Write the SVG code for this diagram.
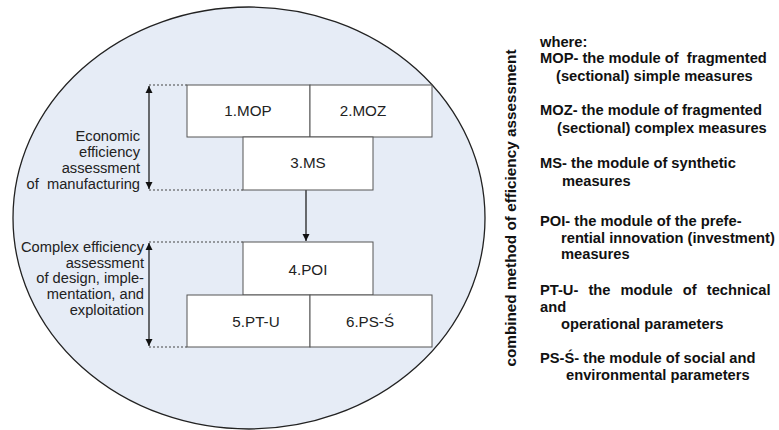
<svg xmlns="http://www.w3.org/2000/svg" width="779" height="430" viewBox="0 0 779 430">
<style>
.box{fill:#fff;stroke:#555;stroke-width:1}
.lbl{font-family:"Liberation Sans",Arial,sans-serif;font-size:15.2px;fill:#222;text-anchor:middle}
.side{font-family:"Liberation Sans",Arial,sans-serif;font-size:14.7px;fill:#222;text-anchor:end}
.leg{font-family:"Liberation Sans",Arial,sans-serif;font-size:14.7px;font-weight:bold;fill:#111}
.dash{stroke:#444;stroke-width:1;stroke-dasharray:2,2;fill:none}
.ln{stroke:#111;stroke-width:1.2;fill:none}
</style>
<defs>
<marker id="ah" viewBox="0 0 10 10" refX="10" refY="5" markerWidth="7" markerHeight="9" markerUnits="userSpaceOnUse" orient="auto-start-reverse">
<path d="M0,0 L10,5 L0,10 z" fill="#111"/>
</marker>
</defs>
<ellipse id="scope" cx="249" cy="218" rx="236" ry="211" fill="#E6ECF6" stroke="#222" stroke-width="1.3"/>
<g id="connectors">
<line class="dash" x1="149" y1="85" x2="187" y2="85"/>
<line class="dash" x1="149" y1="190" x2="243" y2="190"/>
<line class="dash" x1="149" y1="242" x2="243" y2="242"/>
<line class="dash" x1="149" y1="347" x2="187" y2="347"/>
<line class="ln" x1="149" y1="86" x2="149" y2="189" marker-start="url(#ah)" marker-end="url(#ah)"/>
<line class="ln" x1="149" y1="243" x2="149" y2="346" marker-start="url(#ah)" marker-end="url(#ah)"/>
<line class="ln" x1="306" y1="190" x2="306" y2="241" marker-end="url(#ah)"/>
</g>
<g id="n1"><rect class="box" x="187" y="85" width="123" height="52"/><text class="lbl" x="248" y="116">1.MOP</text></g>
<g id="n2"><rect class="box" x="310" y="85" width="122" height="52"/><text class="lbl" x="363" y="116">2.MOZ</text></g>
<g id="n3"><rect class="box" x="243" y="137" width="130" height="53"/><text class="lbl" x="308" y="168">3.MS</text></g>
<g id="n4"><rect class="box" x="243" y="242" width="130" height="53"/><text class="lbl" x="308" y="275">4.POI</text></g>
<g id="n5"><rect class="box" x="187" y="295" width="123" height="52"/><text class="lbl" x="256" y="327">5.PT-U</text></g>
<g id="n6"><rect class="box" x="310" y="295" width="122" height="52"/><text class="lbl" x="370" y="327">6.PS-Ś</text></g>
<g id="label-economic">
<text class="side" x="140" y="141">Economic</text>
<text class="side" x="140" y="157">efficiency</text>
<text class="side" x="140" y="173">assessment</text>
<text class="side" x="140" y="189" xml:space="preserve">of  manufacturing</text>
</g>
<g id="label-complex">
<text class="side" x="144" y="252">Complex efficiency</text>
<text class="side" x="144" y="268">assessment</text>
<text class="side" x="144" y="283">of design, imple-</text>
<text class="side" x="144" y="299">mentation, and</text>
<text class="side" x="144" y="315">exploitation</text>
</g>
<text class="leg" transform="translate(516,208) rotate(-90)" text-anchor="middle" style="font-size:15.3px">combined method of efficiency assessment</text>
<g id="legend">
<text class="leg" x="540" y="47">where:</text>
<text class="leg" x="540" y="63" xml:space="preserve">MOP- the module of  fragmented</text>
<text class="leg" x="556" y="81">(sectional) simple measures</text>
<text class="leg" x="540" y="115">MOZ- the module of fragmented</text>
<text class="leg" x="557" y="133">(sectional) complex measures</text>
<text class="leg" x="540" y="168">MS- the module of synthetic</text>
<text class="leg" x="562" y="186">measures</text>
<text class="leg" x="540" y="226">POI- the module of the prefe-</text>
<text class="leg" x="561" y="243">rential innovation (investment)</text>
<text class="leg" x="561" y="259">measures</text>
<text class="leg" x="540" y="295" word-spacing="6">PT-U- the module of technical</text>
<text class="leg" x="540" y="312">and</text>
<text class="leg" x="561" y="329">operational parameters</text>
<text class="leg" x="540" y="363">PS-Ś- the module of social and</text>
<text class="leg" x="566" y="380">environmental parameters</text>
</g>
</svg>
